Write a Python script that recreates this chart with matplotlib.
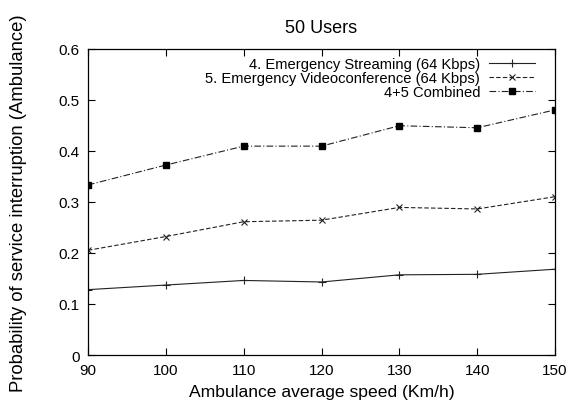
import matplotlib
matplotlib.use("Agg")
import matplotlib.pyplot as plt
from matplotlib.ticker import FuncFormatter

speeds = [90, 100, 110, 120, 130, 140, 150]
streaming = [0.128, 0.137, 0.146, 0.143, 0.157, 0.158, 0.168]
videoconf = [0.205, 0.232, 0.261, 0.264, 0.289, 0.286, 0.310]
combined = [0.333, 0.372, 0.409, 0.409, 0.449, 0.445, 0.480]
labels = ["4. Emergency Streaming (64 Kbps)",
          "5. Emergency Videoconference (64 Kbps)",
          "4+5 Combined"]

plt.rcParams['font.family'] = ['Liberation Sans', 'DejaVu Sans']
plt.rcParams['font.size'] = 10

fig = plt.figure(figsize=(5.8, 4.1), dpi=100)
ax = fig.add_axes([0.1517, 0.1317, 0.8053, 0.7473])

lc = '#222222'
ax.plot(speeds, streaming, color=lc, lw=0.8, ls='-', marker='+', ms=6, mew=0.8, label=labels[0])
ax.plot(speeds, videoconf, color=lc, lw=0.8, ls=(0, (4, 2)), marker='x', ms=4.5, mew=0.8, label=labels[1])
ax.plot(speeds, combined, color=lc, lw=0.8, ls=(0, (6, 2, 1, 2)), marker='s', ms=4.5,
        mfc='black', mec='black', label=labels[2])

ax.set_xlim(90, 150)
ax.set_ylim(0, 0.6)
ax.set_xticks(speeds)
ax.set_yticks([0, 0.1, 0.2, 0.3, 0.4, 0.5, 0.6])
ax.yaxis.set_major_formatter(FuncFormatter(lambda v, p: "0" if abs(v) < 1e-9 else f"{v:.1f}"))
ax.tick_params(direction='in', top=True, right=True, length=5, width=0.8, labelsize=11, pad=6)
for s in ax.spines.values():
    s.set_linewidth(0.9)

ax.set_title("50 Users", fontsize=13, pad=12)
ax.set_xlabel("Ambulance average speed (Km/h)", fontsize=12.6, labelpad=5)
ax.set_ylabel("Probability of service interruption (Ambulance)", fontsize=13.3, labelpad=23)

ax.legend(loc='upper right', frameon=False, markerfirst=False, fontsize=10.6,
          handlelength=3.1, handletextpad=0.6, labelspacing=0.0,
          borderaxespad=0.2, bbox_to_anchor=(0.975, 1.0))

fig.savefig("out.png", dpi=100)
